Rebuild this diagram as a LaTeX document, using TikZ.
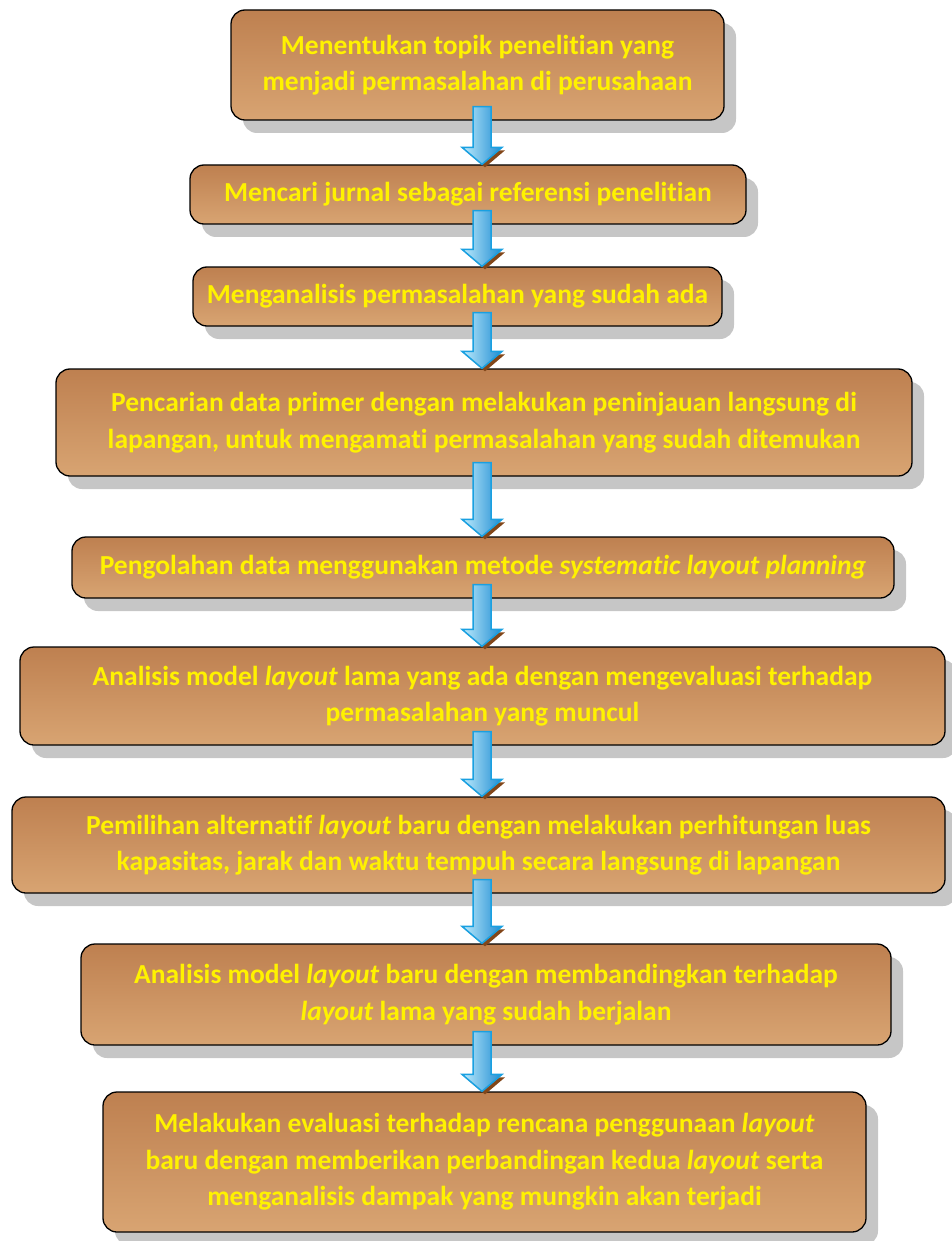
\documentclass[tikz,border=0pt]{standalone}
\usepackage{fontspec}
\setmainfont[Ligatures=NoCommon]{Carlito}
\usepackage{tikz}
\usetikzlibrary{calc,shadows}

\definecolor{boxtop}{RGB}{190,128,80}
\definecolor{boxbottom}{RGB}{216,164,114}
\definecolor{arrowlight}{RGB}{190,235,252}
\definecolor{arrowdark}{RGB}{30,140,210}
\definecolor{arrowedge}{RGB}{25,160,225}
\definecolor{arrowshadow}{RGB}{130,70,25}

% block arrow from the bottom of one box to the top of the next
\newcommand{\flowarrow}[2]{%
  \path let \p1=(#1.south), \p2=(#2.north) in
    [fill=arrowshadow] (482pt+23pt,{\y2+17pt-3pt}) -- (482pt+3pt,{\y2-3pt}) -- (482pt-17pt,{\y2+17pt-3pt}) -- cycle;
  \path let \p1=(#1.south), \p2=(#2.north) in
    [shade, left color=arrowlight, right color=arrowdark, draw=arrowedge, line width=1.5pt, line join=miter]
    (482pt-9pt,{\y1+14pt}) -- (482pt+9pt,{\y1+14pt}) -- (482pt+9pt,{\y2+17pt})
    -- (482pt+20pt,{\y2+17pt}) -- (482pt,\y2) -- (482pt-20pt,{\y2+17pt})
    -- (482pt-9pt,{\y2+17pt}) -- cycle;
}

\begin{document}
\begin{tikzpicture}[inner sep=0pt,
  stepbox/.style={draw, line width=1.3pt, rounded corners=14pt, top color=boxtop, bottom color=boxbottom,
    drop shadow={shadow xshift=12pt, shadow yshift=-13pt, fill=gray!45, opacity=1},
    text=yellow, align=center, font=\bfseries\fontsize{27.5}{36.5}\selectfont}]
\useasboundingbox (0,0) rectangle (951pt,-1241pt);
\node (n0) [stepbox, minimum width=493pt, minimum height=110pt, at={(477.5pt,-65pt)}] {Menentukan topik penelitian yang\\menjadi permasalahan di perusahaan};
\node (n1) [stepbox, minimum width=556pt, minimum height=59pt, at={(468pt,-194.5pt)}] {Mencari jurnal sebagai referensi penelitian};
\node (n2) [stepbox, minimum width=529pt, minimum height=59pt, at={(457.5pt,-296.5pt)}] {Menganalisis permasalahan yang sudah ada};
\node (n3) [stepbox, minimum width=856pt, minimum height=107pt, at={(484pt,-422.5pt)}] {Pencarian data primer dengan melakukan peninjauan langsung di\\lapangan, untuk mengamati permasalahan yang sudah ditemukan};
\node (n4) [stepbox, minimum width=822pt, minimum height=61pt, at={(483pt,-567.5pt)}] {Pengolahan data menggunakan metode \textit{systematic layout planning}};
\node (n5) [stepbox, minimum width=925pt, minimum height=98pt, at={(482.5pt,-696pt)}] {Analisis model \textit{layout} lama yang ada dengan mengevaluasi terhadap\\permasalahan yang muncul};
\node (n6) [stepbox, minimum width=933pt, minimum height=96pt, at={(478.5pt,-845pt)}] {Pemilihan alternatif \textit{layout} baru dengan melakukan perhitungan luas\\kapasitas, jarak dan waktu tempuh secara langsung di lapangan};
\node (n7) [stepbox, minimum width=810pt, minimum height=101pt, at={(486pt,-994.5pt)}] {Analisis model \textit{layout} baru dengan membandingkan terhadap\\\textit{layout} lama yang sudah berjalan};
\node (n8) [stepbox, minimum width=763pt, minimum height=140pt, at={(484.5pt,-1162pt)}] {Melakukan evaluasi terhadap rencana penggunaan \textit{layout}\\baru dengan memberikan perbandingan kedua \textit{layout} serta\\menganalisis dampak yang mungkin akan terjadi};

\flowarrow{n0}{n1}
\flowarrow{n1}{n2}
\flowarrow{n2}{n3}
\flowarrow{n3}{n4}
\flowarrow{n4}{n5}
\flowarrow{n5}{n6}
\flowarrow{n6}{n7}
\flowarrow{n7}{n8}
\end{tikzpicture}
\end{document}
